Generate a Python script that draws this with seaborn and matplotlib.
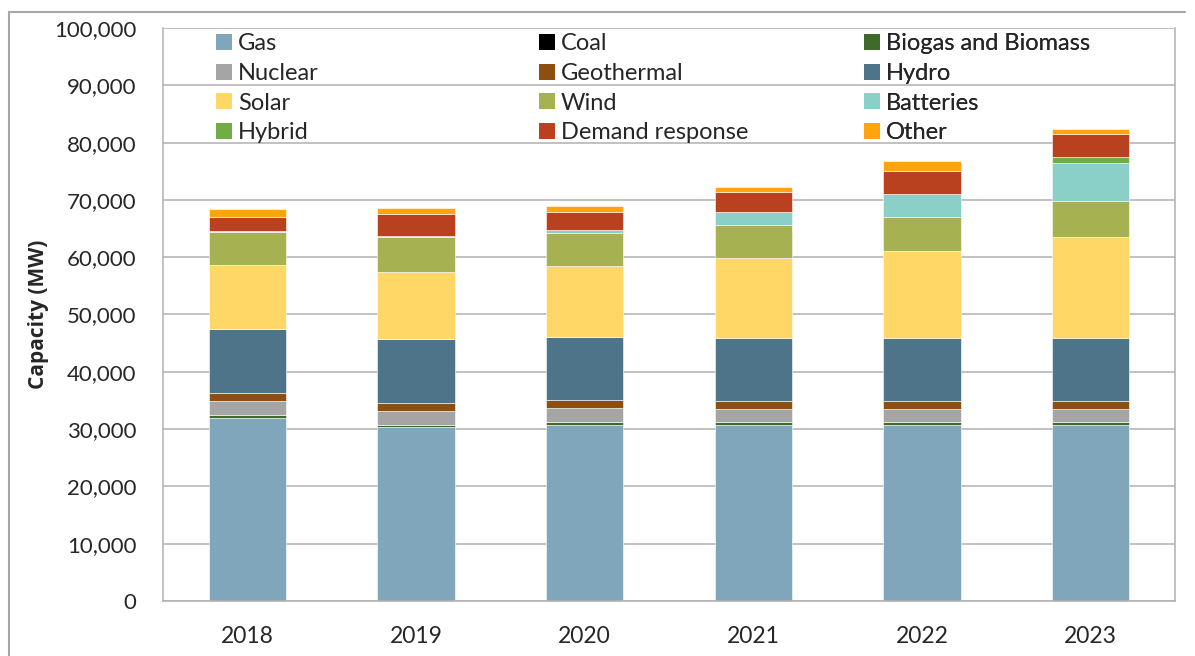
import pandas as pd
import seaborn as sns
import matplotlib.pyplot as plt
from matplotlib.patches import Patch
from matplotlib.lines import Line2D
from matplotlib.ticker import FuncFormatter, FixedLocator

years = [2018, 2019, 2020, 2021, 2022, 2023]

gas = [31900, 30300, 30770, 30770, 30720, 30720]
coal = [0, 0, 0, 0, 0, 0]
biomass = [600, 460, 520, 470, 470, 520]
nuclear = [2450, 2440, 2340, 2320, 2320, 2320]
geothermal = [1350, 1300, 1400, 1400, 1450, 1400]
hydro = [11150, 11220, 10990, 10990, 10990, 10990]
solar = [11200, 11640, 12390, 13860, 15130, 17630]
wind = [5700, 6130, 5870, 5860, 5990, 6230]
batteries = [150, 240, 470, 2220, 4010, 6630]
hybrid = [0, 0, 0, 0, 0, 990]
demand = [2600, 3780, 3190, 3540, 4020, 4130]
other = [1300, 1000, 1000, 880, 1690, 810]

sources = ["Gas", "Coal", "Biogas and Biomass", "Nuclear", "Geothermal", "Hydro",
           "Solar", "Wind", "Batteries", "Hybrid", "Demand response", "Other"]
series = [gas, coal, biomass, nuclear, geothermal, hydro,
          solar, wind, batteries, hybrid, demand, other]
colors = ["#80A6BC", "#000000", "#3E6B2B", "#A5A5A5", "#8C4F10", "#4E7489",
          "#FFD766", "#A6B251", "#8ACFC8", "#70AD47", "#B9411F", "#FFA30F"]

rows = []
for src, vals in zip(sources, series):
    for y, v in zip(years, vals):
        rows.append({"Year": y, "Source": src, "MW": v})
df = pd.DataFrame(rows)

sns.set_style("white")
plt.rcParams["font.family"] = ["Lato", "DejaVu Sans"]

fig = plt.figure(figsize=(11.95, 6.56), dpi=100)
ax = fig.add_axes([163 / 1195, 55 / 656, 1012 / 1195, 573 / 656])

# histplot stacks the last hue level at the bottom, so pass them reversed
sns.histplot(data=df, x="Year", hue="Source", weights="MW", hue_order=sources[::-1],
             palette=colors[::-1], multiple="stack", discrete=True, shrink=0.46,
             alpha=1, edgecolor="white", linewidth=0.4, legend=False, ax=ax)

ax.set_xlim(2017.5, 2023.5)
ax.set_ylim(0, 100000)
ax.set_yticks(range(0, 100001, 10000))
ax.yaxis.set_major_formatter(FuncFormatter(lambda v, p: f"{int(v):,}"))
ax.set_xticks(years)
ax.set_xticklabels([str(y) for y in years])
ax.xaxis.set_minor_locator(FixedLocator([y + 0.5 for y in [2017] + years]))

ax.set_axisbelow(True)
ax.grid(axis="y", color="#B0B0B0", linewidth=1.1)
for side in ["left", "bottom", "right"]:
    ax.spines[side].set_color("#B0B0B0")
    ax.spines[side].set_linewidth(1.1)
ax.spines["top"].set_visible(False)

ax.tick_params(axis="y", length=0, pad=19, labelsize=16)
ax.tick_params(axis="x", which="major", length=0, pad=18, labelsize=16.5)
ax.tick_params(axis="x", which="minor", length=6, width=1.1, color="#B0B0B0")

ax.set_xlabel("")
ax.set_ylabel("Capacity (MW)", fontsize=15, fontweight="bold",
              family=["Open Sans", "DejaVu Sans"])
ax.yaxis.set_label_coords(-0.113, 0.5)

# legend: three columns placed by hand
col_x = [(214 - 163) / 1012, (537 - 163) / 1012, (862 - 163) / 1012]
for c in range(3):
    idx = [r * 3 + c for r in range(4)]
    handles = [Patch(facecolor=colors[i], edgecolor="none") for i in idx]
    leg = ax.legend(handles, [sources[i] for i in idx], loc="upper left",
                    bbox_to_anchor=(col_x[c], 0.995), frameon=False, fontsize=17,
                    handlelength=0.66, handleheight=0.66, handletextpad=0.25,
                    labelspacing=0.37, borderpad=0, borderaxespad=0.1)
    ax.add_artist(leg)

# outer frame (top and left visible)
fig.add_artist(Line2D([9 / 1195, 1185 / 1195], [1 - 12 / 656, 1 - 12 / 656],
                      color="#A6A6A6", linewidth=1.5))
fig.add_artist(Line2D([9 / 1195, 9 / 1195], [0, 1 - 12 / 656],
                      color="#A6A6A6", linewidth=1.5))

fig.savefig("out.png", dpi=100)
plt.close(fig)
